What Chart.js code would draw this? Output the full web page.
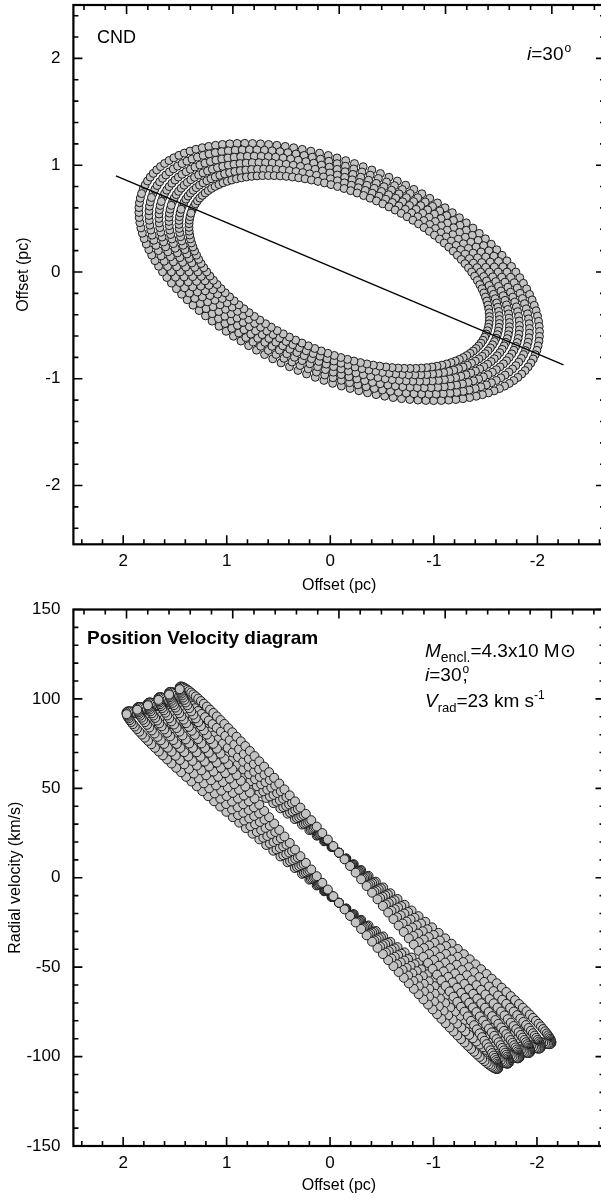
<!DOCTYPE html>
<html>
<head>
<meta charset="utf-8">
<script src="https://cdn.jsdelivr.net/npm/chart.js@4.4.0/dist/chart.umd.min.js"></script>
<style>
  html, body { margin: 0; padding: 0; background: #fff; }
  #wrap { position: relative; width: 601px; height: 1200px; overflow: hidden; }
  canvas { position: absolute; left: 0; }
  #ringChart { top: 0; }
  #pvChart { top: 600px; }
</style>
</head>
<body>
<div id="wrap">
  <canvas id="ringChart" width="610" height="600"></canvas>
  <canvas id="pvChart" width="610" height="600"></canvas>
</div>
<script>
// ring model
const ringRadius = [1.5, 1.6, 1.7, 1.8, 1.9, 2.0];    // pc, along the line of nodes
const ringRotVel = [106, 103, 100, 97, 94.5, 92];      // km/s, projected rotation of each ring
const vRadProj = 14;       // km/s, projected radial part
const axisRatio = 0.5;     // minor / major axis of the rings on the sky
const posAngle = 22.8;     // deg, line of nodes
const skyStep = 2.5;       // deg between two dots of a ring (sky panel)
const pvStep = 2;          // deg between two dots of a ring (PV panel)
const nodeLineX = [2.1, -2.11];
const nodeLineY = [0.9, -0.87];

const offsetTicks = [2, 1, 0, -1, -2];
const ringYTicks = [2, 1, 0, -1, -2];
const velTicks = [150, 100, 50, 0, -50, -100, -150];

const SANS = '"Liberation Sans", Arial, Helvetica, sans-serif';
const DOT_FILL = '#c3c3c3';
const DOT_EDGE = '#1a1a1a';

function ringPoints(r) {
    const th = posAngle * Math.PI / 180;
    const pts = [];
    for (let a = 0; a < 360; a += skyStep) {
        const p = a * Math.PI / 180;
        const u = r * Math.cos(p), w = r * axisRatio * Math.sin(p);
        pts.push({x: u * Math.cos(th) - w * Math.sin(th), y: u * Math.sin(th) + w * Math.cos(th)});
    }
    return pts;
}

function pvPoints(r, vrot) {
    const pts = [];
    for (let a = 0; a < 360; a += pvStep) {
        const p = a * Math.PI / 180;
        pts.push({x: r * Math.cos(p), y: vrot * Math.cos(p) + vRadProj * Math.sin(p)});
    }
    return pts;
}

function stepValues(min, max, step) {
    const out = [];
    const n0 = Math.ceil(min / step - 1e-9), n1 = Math.floor(max / step + 1e-9);
    for (let n = n0; n <= n1; n++) out.push(n * step);
    return out;
}

// frame + inward ticks on all four sides
const frameTicks = {
    id: 'frameTicks',
    afterDraw(chart, args, opts) {
        const {ctx, chartArea: a} = chart;
        const isMajor = (v, m) => Math.abs(v / m - Math.round(v / m)) < 1e-6;
        ctx.save();
        ctx.strokeStyle = '#000';
        ctx.lineWidth = 1.6;
        ctx.beginPath();
        // bottom
        const xb = chart.scales.xb;
        stepValues(xb.min, xb.max, opts.xMinor).forEach(v => {
            const px = xb.getPixelForValue(v);
            const len = isMajor(v, 1) ? 9 : 5;
            ctx.moveTo(px, a.bottom); ctx.lineTo(px, a.bottom - len);
        });
        // top
        const xt = chart.scales.x;
        stepValues(xt.min, xt.max, opts.xMinor).forEach(v => {
            const px = xt.getPixelForValue(v);
            const len = isMajor(v, 1) ? 9 : 5;
            ctx.moveTo(px, a.top); ctx.lineTo(px, a.top + len);
        });
        // left / right
        const ys = chart.scales.y;
        stepValues(ys.min, ys.max, opts.yMinor).forEach(v => {
            const py = ys.getPixelForValue(v);
            const len = isMajor(v, opts.yMajor) ? 9 : 5;
            ctx.moveTo(a.left, py); ctx.lineTo(a.left + len, py);
            ctx.moveTo(a.right, py); ctx.lineTo(a.right - len, py);
        });
        ctx.stroke();
        ctx.lineWidth = 2.2;
        ctx.strokeRect(a.left, a.top, a.right - a.left, a.bottom - a.top);
        ctx.restore();
    }
};

// annotation text made of runs (italic, sub/superscripts)
const texts = {
    id: 'texts',
    afterDraw(chart, args, opts) {
        const ctx = chart.ctx;
        ctx.save();
        ctx.fillStyle = '#000';
        ctx.textBaseline = 'alphabetic';
        (opts.items || []).forEach(line => {
            let x = line.x;
            line.runs.forEach(run => {
                ctx.font = run.font;
                ctx.fillText(run.t, x + (run.dx || 0), line.y + (run.dy || 0));
                if (!run.stay) x += ctx.measureText(run.t).width + (run.dx || 0);
            });
        });
        ctx.restore();
    }
};

function baseOptions(yOpts, padTop, axisH, yTitle, yTitlePad, yMinorStep, yMajorStep, textItems) {
    return {
        responsive: false,
        animation: false,
        events: [],
        layout: {padding: {left: 0, right: 3.2, top: padTop, bottom: 0}},
        plugins: {
            legend: {display: false},
            tooltip: {enabled: false},
            frameTicks: {xMinor: 0.2, yMinor: yMinorStep, yMajor: yMajorStep},
            texts: {items: textItems}
        },
        scales: {
            x: {type: 'linear', display: false, min: -2.5, max: 2.5, reverse: true},
            xb: {
                type: 'linear', position: 'bottom', min: -2.653, max: 2.481, reverse: true,
                grid: {display: false, drawTicks: false}, border: {display: false},
                afterBuildTicks: s => { s.ticks = offsetTicks.map(v => ({value: v})); },
                afterFit: s => { s.height = axisH; s.paddingLeft = 0; s.paddingRight = 0; },
                ticks: {color: '#000', padding: 7, font: {family: SANS, size: 17}},
                title: {display: true, text: 'Offset (pc)', color: '#000', font: {family: SANS, size: 16}, padding: {top: 0, bottom: 5}}
            },
            y: Object.assign({
                type: 'linear', position: 'left',
                grid: {display: false, drawTicks: false}, border: {display: false},
                afterFit: s => { s.width = 73.4; s.paddingTop = 0; s.paddingBottom = 0; },
                ticks: {color: '#000', padding: 13, font: {family: SANS, size: 17}},
                title: {display: true, text: yTitle, color: '#000', font: {family: SANS, size: 16}, padding: {top: yTitlePad, bottom: 0}}
            }, yOpts)
        }
    };
}

// ---- top panel: the rings on the sky
const ringSets = ringRadius.map(r => ({
    data: ringPoints(r), xAxisID: 'x', yAxisID: 'y', order: 1,
    showLine: false, pointRadius: 4, pointBorderWidth: 1,
    pointBackgroundColor: DOT_FILL, pointBorderColor: DOT_EDGE
}));
ringSets.push({
    data: nodeLineX.map((x, i) => ({x: x, y: nodeLineY[i]})), xAxisID: 'x', yAxisID: 'y', order: 0,
    showLine: true, pointRadius: 0, borderColor: '#000', borderWidth: 1.4
});

new Chart(document.getElementById('ringChart'), {
    type: 'scatter',
    data: {datasets: ringSets},
    options: baseOptions(
        {min: -2.55, max: 2.5, afterBuildTicks: s => { s.ticks = ringYTicks.map(v => ({value: v})); }},
        3.5, 55.7, 'Offset (pc)', 14, 0.2, 1,
        [
            {x: 97, y: 43, runs: [{t: 'CND', font: `18px ${SANS}`}]},
            {x: 527, y: 60, runs: [
                {t: 'i', font: `italic 19px ${SANS}`},
                {t: '=30', font: `19px ${SANS}`},
                {t: 'o', font: `12px ${SANS}`, dy: -8, dx: 1}
            ]}
        ]
    ),
    plugins: [frameTicks, texts]
});

// ---- bottom panel: position velocity diagram
const pvSets = ringRadius.map((r, i) => ({
    data: pvPoints(r, ringRotVel[i]), xAxisID: 'x', yAxisID: 'y',
    showLine: false, pointRadius: 4.5, pointBorderWidth: 1,
    pointBackgroundColor: DOT_FILL, pointBorderColor: DOT_EDGE
}));

new Chart(document.getElementById('pvChart'), {
    type: 'scatter',
    data: {datasets: pvSets},
    options: baseOptions(
        {min: -150, max: 150, afterBuildTicks: s => { s.ticks = velTicks.map(v => ({value: v})); }},
        9.5, 54, 'Radial velocity (km/s)', 6, 10, 50,
        [
            {x: 87, y: 44, runs: [{t: 'Position Velocity diagram', font: `bold 19px ${SANS}`}]},
            {x: 425, y: 57, runs: [
                {t: 'M', font: `italic 19px ${SANS}`},
                {t: 'encl.', font: `14px ${SANS}`, dy: 5},
                {t: '=4.3x10 M\u2299', font: `19px ${SANS}`}
            ]},
            {x: 425, y: 81, runs: [
                {t: 'i', font: `italic 19px ${SANS}`},
                {t: '=30', font: `19px ${SANS}`},
                {t: 'o', font: `12px ${SANS}`, dy: -8, dx: 1, stay: true},
                {t: ',', font: `19px ${SANS}`, dx: 1}
            ]},
            {x: 425, y: 107, runs: [
                {t: 'V', font: `italic 19px ${SANS}`},
                {t: 'rad', font: `13px ${SANS}`, dy: 5},
                {t: '=23 km s', font: `19px ${SANS}`},
                {t: '-1', font: `12px ${SANS}`, dy: -8}
            ]}
        ]
    ),
    plugins: [frameTicks, texts]
});
</script>
</body>
</html>
